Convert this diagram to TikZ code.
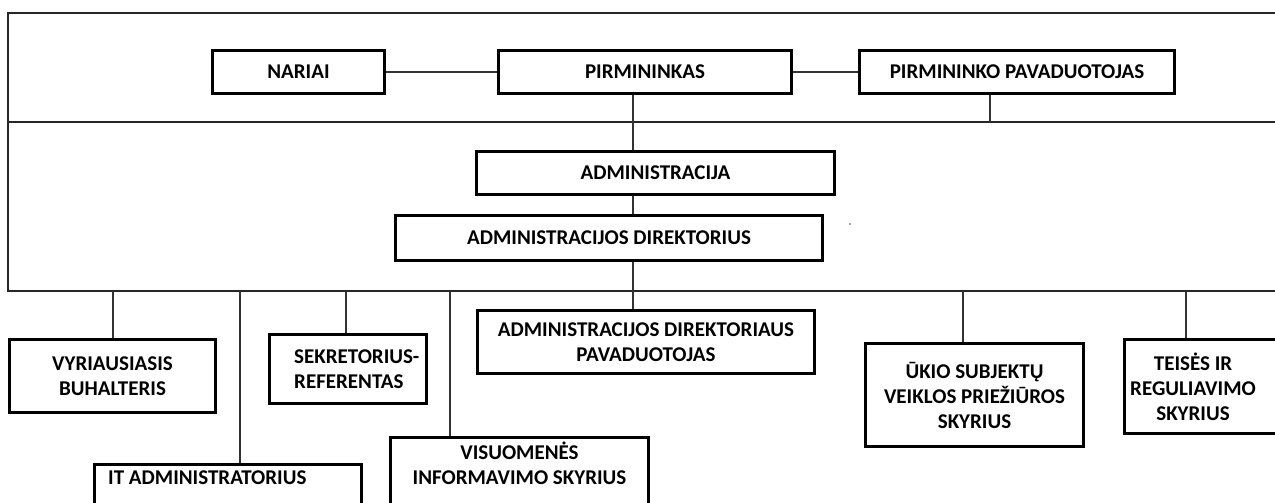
\documentclass[tikz,border=0pt]{standalone}
\usepackage{fontspec}
\setmainfont{Carlito}
\begin{document}
\begin{tikzpicture}[x=1pt,y=-1pt,
  lbl/.style={font=\fontsize{21}{25}\selectfont\bfseries, align=center},
  box/.style={lbl, draw=black, line width=3.2pt, inner sep=0pt},
  txt/.style={lbl, inner sep=0pt},
  conn/.style={draw=black!80, line width=1.1pt},
  frame/.style={draw=black!85, line width=1.4pt}]
\useasboundingbox (0,0) rectangle (1275,503);
\clip (0,0) rectangle (1275,503);
% frame
\draw[frame] (1280,13) -- (8,13) -- (8,291) -- (1280,291);
\draw[frame] (8,122) -- (1280,122);
% top row
\node[box, minimum width=172pt, minimum height=43pt] (nariai) at (298.5,72) {NARIAI};
\node[box, minimum width=293pt, minimum height=43pt] (pirm) at (645,72) {PIRMININKAS};
\node[box, minimum width=315pt, minimum height=43pt] (pp) at (1017,72) {PIRMININKO PAVADUOTOJAS};
% middle
\node[box, minimum width=358pt, minimum height=43pt] (adm) at (655.5,173) {ADMINISTRACIJA};
\node[box, minimum width=427pt, minimum height=45pt] (admdir) at (609,238) {ADMINISTRACIJOS DIREKTORIUS};
% bottom
\node[box, minimum width=337pt, minimum height=63pt] (adp) at (646,342) {ADMINISTRACIJOS DIREKTORIAUS\\PAVADUOTOJAS};
\node[box, minimum width=206pt, minimum height=73pt] (vb) at (112.5,376) {VYRIAUSIASIS\\BUHALTERIS};
\node[box, minimum width=157pt, minimum height=69pt] (sr) at (348,369) {};
\node[txt, align=left, anchor=west] (srt) at (294,369) {SEKRETORIUS-\\REFERENTAS};
\node[box, anchor=north, minimum width=267pt, minimum height=80pt] (it) at (228,462.5) {};
\node[txt, anchor=west] (itt) at (108,478) {IT ADMINISTRATORIUS};
\node[box, anchor=north, minimum width=258pt, minimum height=100pt] (vis) at (519.5,435.5) {};
\node[txt] (vist) at (519.5,463) {VISUOMENĖS\\INFORMAVIMO SKYRIUS};
\node[box, minimum width=218pt, minimum height=103pt] (ukio) at (974.5,395) {ŪKIO SUBJEKTŲ\\VEIKLOS PRIEŽIŪROS\\SKYRIUS};
\node[box, minimum width=152pt, minimum height=94pt] (teis) at (1200.5,386.5) {};
\node[txt] (teist) at (1193,387) {TEISĖS IR\\REGULIAVIMO\\SKYRIUS};
% connectors
\draw[conn] (nariai.east) -- (pirm.west);
\draw[conn] (pirm.east) -- (pp.west);
\coordinate (ppd) at (990,122);
\draw[conn] (ppd |- pp.south) -- (ppd);
\coordinate (vx) at (633,0);
\draw[conn] (vx |- pirm.south) -- (vx |- adm.north);
\draw[conn] (vx |- adm.south) -- (vx |- admdir.north);
\draw[conn] (vx |- admdir.south) -- (vx |- adp.north);
\coordinate (d1) at (113,291);
\coordinate (d2) at (240,291);
\coordinate (d3) at (346,291);
\coordinate (d4) at (450,291);
\coordinate (d5) at (963,291);
\coordinate (d6) at (1186,291);
\draw[conn] (d1) -- (d1 |- vb.north);
\draw[conn] (d2) -- (d2 |- it.north);
\draw[conn] (d3) -- (d3 |- sr.north);
\draw[conn] (d4) -- (d4 |- vis.north);
\draw[conn] (d5) -- (d5 |- ukio.north);
\draw[conn] (d6) -- (d6 |- teis.north);
% stray dot
\fill[black!70] (850,224) circle (0.9pt);
\end{tikzpicture}
\end{document}
